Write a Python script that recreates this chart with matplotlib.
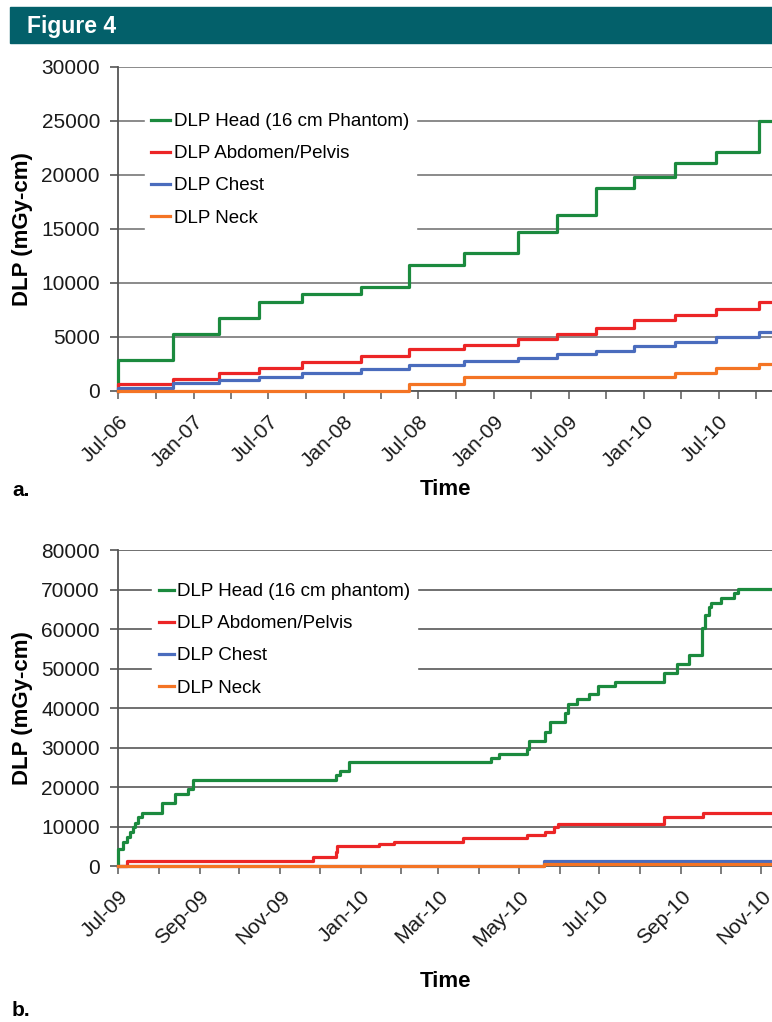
import matplotlib
matplotlib.use('Agg')
import matplotlib.pyplot as plt
import matplotlib.dates as mdates
import pandas as pd

plt.rcParams['font.family'] = ['Liberation Sans', 'DejaVu Sans']

# ---- panel a: cumulative DLP, Jul-06 .. Nov-10 ----
a_dates = ["2006-07-01", "2006-11-13", "2007-03-04", "2007-06-08", "2007-09-22",
           "2008-02-13", "2008-06-07", "2008-10-19", "2009-03-01", "2009-06-04",
           "2009-09-07", "2009-12-07", "2010-03-16", "2010-06-25", "2010-10-07"]
head_a = [2870, 5280, 6760, 8240, 8980, 9660, 11670, 12750, 14750, 16300,
          18770, 19840, 21140, 22160, 25000]
abd_a = [650, 1110, 1640, 2100, 2650, 3270, 3860, 4260, 4790, 5280,
         5800, 6570, 7040, 7560, 8210]
chest_a = [310, 770, 1020, 1330, 1640, 2010, 2410, 2810, 3020, 3430,
           3730, 4170, 4570, 4970, 5490]
neck_a = [0, 0, 0, 0, 0, 0, 650, 1330, 1330, 1330,
          1330, 1330, 1640, 2100, 2470]

# ---- panel b: cumulative DLP, Jul-09 .. Nov-10 ----
head_b_dates = ["2009-07-01", "2009-07-05", "2009-07-08", "2009-07-10", "2009-07-12",
                "2009-07-14", "2009-07-16", "2009-07-19", "2009-08-03", "2009-08-13",
                "2009-08-23", "2009-08-27", "2009-12-13", "2009-12-16", "2009-12-23",
                "2010-04-10", "2010-04-16", "2010-05-07", "2010-05-09", "2010-05-21",
                "2010-05-25", "2010-06-05", "2010-06-07", "2010-06-14", "2010-06-23",
                "2010-06-30", "2010-07-13", "2010-08-19", "2010-08-29", "2010-09-07",
                "2010-09-17", "2010-09-19", "2010-09-22", "2010-09-24", "2010-10-01",
                "2010-10-11", "2010-10-14"]
head_b = [4230, 6000, 7300, 8500, 9800, 11000, 12300, 13500, 15870, 18230,
          19410, 21770, 23040, 24130, 26250, 27260, 28270, 29540, 31730, 34010,
          36540, 38810, 40940, 42200, 43470, 45570, 46660, 48940, 51140, 53420,
          60170, 63540, 65650, 66660, 67770, 69040, 70130]
abd_b_dates = ["2009-07-01", "2009-07-08", "2009-11-26", "2009-12-13", "2009-12-14",
               "2010-01-15", "2010-01-26", "2010-03-20", "2010-05-07", "2010-05-21",
               "2010-05-28", "2010-05-31", "2010-08-19", "2010-09-18"]
abd_b = [0, 1350, 2350, 3620, 5060, 5490, 6160, 7010, 7850, 8690,
         9960, 10630, 12490, 13500]
chest_b_dates = ["2009-07-01", "2010-05-20"]
chest_b = [0, 1200]
neck_b_dates = ["2009-07-01", "2010-05-20"]
neck_b = [0, 450]

end_date = "2010-11-30"

colors = {'head': '#1b8a3e', 'abd': '#ec2526', 'chest': '#4a6cbd', 'neck': '#f47424'}


def series(dates, vals, start_zero=True):
    d = list(pd.to_datetime(dates))
    v = list(vals)
    if start_zero:
        d = [d[0]] + d
        v = [0] + v
    d.append(pd.Timestamp(end_date))
    v.append(v[-1])
    return d, v


def style_axis(ax, ymax, ystep, grid_color, xlabelpad):
    ax.set_ylim(0, ymax)
    ax.set_yticks(range(0, ymax + 1, ystep))
    ax.yaxis.grid(True, color=grid_color, linewidth=1.4)
    ax.set_axisbelow(True)
    for s in ['top', 'right']:
        ax.spines[s].set_visible(False)
    for s in ['left', 'bottom']:
        ax.spines[s].set_color('#555555')
        ax.spines[s].set_linewidth(1.3)
    ax.tick_params(axis='y', which='major', length=6, width=1.2, color='#555555',
                   labelsize=15, labelcolor='#1a1a1a', pad=7)
    ax.tick_params(axis='x', which='both', length=6, width=1.2, color='#666666',
                   direction='out', labelsize=15, labelcolor='#1a1a1a', pad=9)
    ax.xaxis.set_major_formatter(mdates.DateFormatter('%b-%y'))
    plt.setp(ax.get_xticklabels(), rotation=45, ha='right', rotation_mode='anchor')
    ax.set_xlabel('Time', fontsize=16, fontweight='bold', labelpad=xlabelpad)
    ax.set_ylabel('DLP (mGy-cm)', fontsize=16, fontweight='bold')
    ax.yaxis.set_label_coords(-0.13, 0.5)


def add_legend(ax, labels, anchor, handlelength):
    leg = ax.legend(labels, loc='upper left', bbox_to_anchor=anchor, fontsize=13.5,
                    frameon=True, fancybox=False, facecolor='white', edgecolor='white',
                    framealpha=1, handlelength=handlelength, handletextpad=0.2,
                    labelspacing=0.8, borderpad=0.35, borderaxespad=0)
    leg.set_zorder(5)


fig = plt.figure(figsize=(7.72, 10.22), dpi=100)

# header bar
fig.patches.append(plt.Rectangle((10 / 772, 1 - 43 / 1022), 1, 36 / 1022,
                                 transform=fig.transFigure, color='#03606a', zorder=0))
fig.text(27 / 772, 1 - 26 / 1022, 'Figure 4', color='white', fontsize=16.5,
         fontweight='bold', va='center', ha='left', fontstretch='condensed',
         family=['Liberation Sans Narrow', 'Liberation Sans', 'DejaVu Sans'])

# panel a
ax1 = fig.add_axes([118 / 772, 1 - 391 / 1022, 654 / 772, 324 / 1022])
for key, vals in [('head', head_a), ('abd', abd_a), ('chest', chest_a), ('neck', neck_a)]:
    d, v = series(a_dates, vals)
    ax1.step(d, v, where='post', color=colors[key], linewidth=2.3, clip_on=False, zorder=3)
ax1.set_xlim(pd.Timestamp('2006-07-01'), pd.Timestamp('2010-11-08'))
ax1.xaxis.set_major_locator(mdates.MonthLocator(bymonth=[1, 7]))
ax1.xaxis.set_minor_locator(mdates.MonthLocator(bymonth=[4, 10]))
style_axis(ax1, 30000, 5000, '#8a8a8a', 6)
add_legend(ax1, ['DLP Head (16 cm Phantom)', 'DLP Abdomen/Pelvis', 'DLP Chest', 'DLP Neck'],
           (0.041, 0.878), 1.0)

# panel b
ax2 = fig.add_axes([118 / 772, 1 - 866 / 1022, 654 / 772, 316 / 1022])
for key, dts, vals in [('head', head_b_dates, head_b), ('abd', abd_b_dates, abd_b),
                       ('chest', chest_b_dates, chest_b), ('neck', neck_b_dates, neck_b)]:
    d, v = series(dts, vals)
    ax2.step(d, v, where='post', color=colors[key], linewidth=2.3, clip_on=False, zorder=3)
ax2.set_xlim(pd.Timestamp('2009-07-01'), pd.Timestamp('2010-11-09'))
ax2.xaxis.set_major_locator(mdates.MonthLocator(bymonth=[1, 3, 5, 7, 9, 11]))
ax2.xaxis.set_minor_locator(mdates.MonthLocator(bymonth=[2, 4, 6, 8, 10, 12]))
style_axis(ax2, 80000, 10000, '#707070', 15)
add_legend(ax2, ['DLP Head (16 cm phantom)', 'DLP Abdomen/Pelvis', 'DLP Chest', 'DLP Neck'],
           (0.052, 0.916), 0.8)

fig.text(12 / 772, 1 - 490 / 1022, 'a.', fontsize=15, fontweight='bold', va='center')
fig.text(12 / 772, 1 - 1010 / 1022, 'b.', fontsize=15, fontweight='bold', va='center')

fig.savefig('out.png', dpi=100)
